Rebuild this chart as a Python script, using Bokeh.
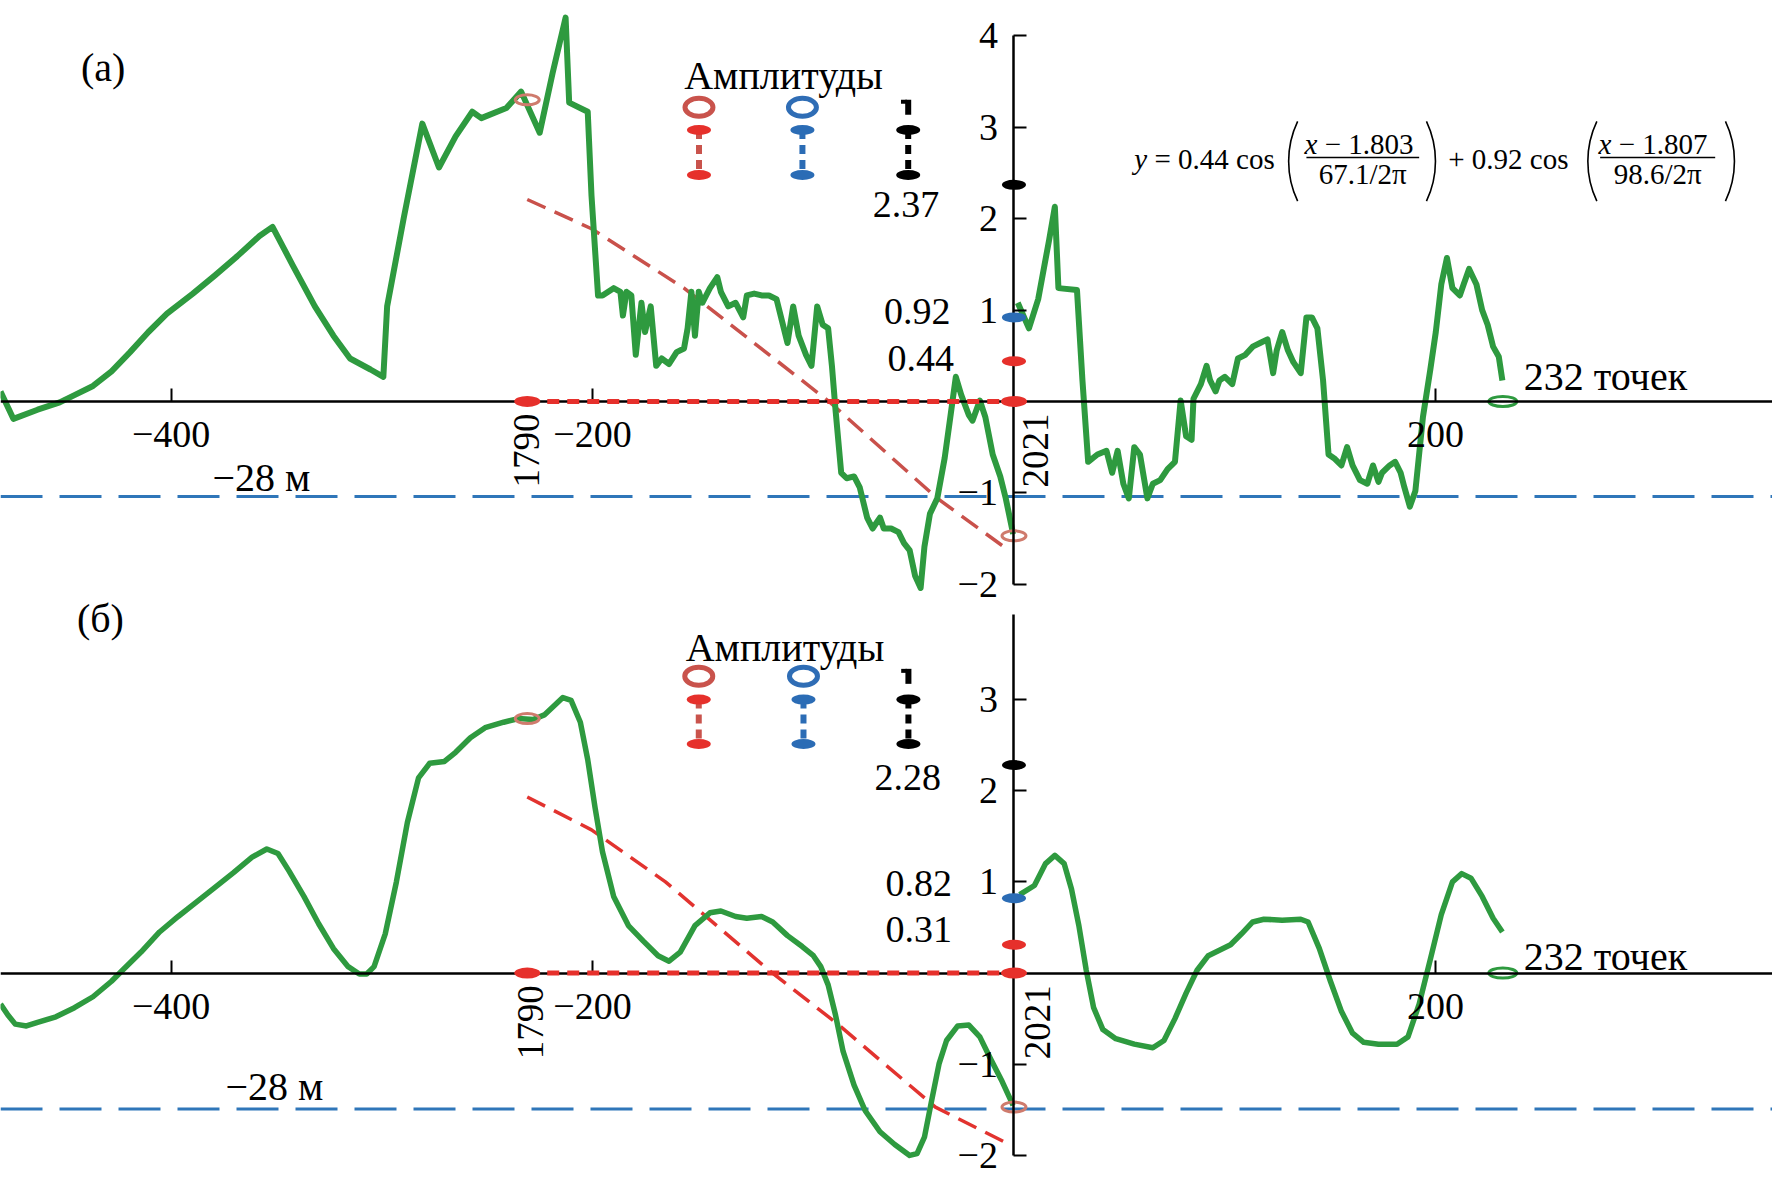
import math
from bokeh.plotting import figure
from bokeh.models import LinearAxis, FixedTicker, Range1d
from bokeh.embed import file_html
from bokeh.resources import INLINE
from bokeh.core.properties import value

FONT = "Liberation Serif"
GREEN = "#2e9a3f"
RED = "#e6302b"
BLUE = "#2b6cb5"
BLUE_LINE = "#2f76b9"
OPEN_RED = "#cf7b6d"
LEG_RED = "#c9534c"

# ---------------- shared axis data ----------------
YEAR_START, YEAR_END = 1790, 2021
N_POINTS = 232
X_TICKS = [-400, -200, 200]
X_TICK_LABELS = ["\u2212400", "\u2212200", "200"]
LEVEL_LABEL = "\u221228 м"

# ---------------- panel (а) ----------------
a_x = [-481.0, -474.9, -463.4, -452.9, -445.9, -437.1, -428.3, -419.5, -410.8, -402.0,
       -389.7, -379.2, -368.6, -358.1, -351.9, -342.3, -331.8, -323.0, -315.1, -305.4,
       -299.3, -297.5, -289.6, -280.8, -272.9, -265.0, -257.1, -252.8, -240.9, -233.9,
       -225.1, -219.0, -212.8, -211.1, -202.3, -200.5, -197.4, -195.3, -190.0, -186.8,
       -185.6, -183.9, -181.6, -179.5, -176.8, -175.1, -172.4, -169.8, -167.2, -163.7,
       -160.1, -156.6, -154.9, -153.1, -151.4, -149.6, -147.9, -144.3, -140.8, -139.1,
       -135.6, -132.1, -128.5, -126.8, -123.3, -119.8, -116.3, -112.7, -110.1, -107.5,
       -104.8, -102.2, -98.7, -96.1, -93.4, -90.8, -88.2, -86.4, -84.7, -82.0,
       -79.4, -75.9, -73.2, -69.7, -67.1, -63.6, -61.8, -58.3, -54.8, -52.2,
       -49.5, -46.9, -44.3, -42.5, -39.9, -36.4, -32.9, -30.2, -27.6, -25.0,
       -21.4, -19.7, -16.2, -13.6, -10.1, -6.5, -3.9, -0.4]
a_y = [0.11, -0.19, -0.09, -0.01, 0.07, 0.17, 0.33, 0.54, 0.76, 0.96,
       1.18, 1.38, 1.59, 1.81, 1.91, 1.49, 1.04, 0.72, 0.47, 0.35,
       0.27, 1.04, 2.01, 3.04, 2.56, 2.90, 3.17, 3.10, 3.21, 3.39,
       2.94, 3.59, 4.20, 3.27, 3.17, 2.25, 1.16, 1.16, 1.24, 1.20,
       0.94, 1.20, 1.16, 0.51, 1.08, 0.76, 1.04, 0.39, 0.47, 0.41,
       0.54, 0.58, 0.80, 1.20, 0.72, 1.20, 1.08, 1.24, 1.36, 1.20,
       1.04, 1.08, 0.92, 1.16, 1.18, 1.16, 1.16, 1.12, 0.88, 0.64,
       1.04, 0.72, 0.51, 0.39, 1.04, 0.84, 0.80, 0.39, -0.09, -0.78,
       -0.84, -0.82, -0.94, -1.27, -1.39, -1.27, -1.39, -1.39, -1.43, -1.55,
       -1.63, -1.91, -2.04, -1.59, -1.23, -1.06, -0.62, -0.17, 0.27, 0.07,
       -0.15, -0.21, 0.01, -0.17, -0.58, -0.82, -1.06, -1.45]
a_det_x = [1.8, 7.1, 11.5, 16.7, 19.4, 21.1, 29.9, 32.5, 35.2, 39.6,
           43.9, 46.6, 49.2, 51.9, 54.5, 57.1, 59.8, 63.3, 65.9, 69.4,
           72.9, 76.4, 79.1, 81.7, 84.3, 85.2, 88.7, 91.4, 93.1, 95.7,
           97.5, 100.1, 103.6, 106.3, 109.8, 113.3, 116.8, 120.3, 123.0, 124.7,
           127.3, 130.0, 132.6, 136.1, 138.8, 141.4, 144.0, 146.7, 149.3, 151.9,
           155.4, 158.1, 160.7, 164.2, 167.7, 170.4, 173.0, 174.7, 178.3, 180.9,
           183.5, 185.3, 187.9, 190.5, 194.1, 197.6, 200.2, 202.8, 205.5, 208.1,
           211.6, 213.4, 216.0, 219.5, 222.2, 224.8, 227.4, 230.1, 231.8]
a_det_y = [1.08, 0.80, 1.12, 1.77, 2.13, 1.24, 1.22, 0.23, -0.66, -0.58,
           -0.54, -0.78, -0.54, -0.90, -1.06, -0.50, -0.58, -1.06, -0.90, -0.86,
           -0.74, -0.66, 0.01, -0.38, -0.42, 0.03, 0.19, 0.39, 0.23, 0.11,
           0.23, 0.27, 0.19, 0.47, 0.51, 0.60, 0.64, 0.68, 0.31, 0.56,
           0.76, 0.56, 0.43, 0.31, 0.92, 0.92, 0.80, 0.23, -0.58, -0.62,
           -0.70, -0.50, -0.70, -0.86, -0.90, -0.70, -0.88, -0.78, -0.70, -0.66,
           -0.78, -0.94, -1.15, -0.98, -0.17, 0.35, 0.76, 1.28, 1.57, 1.24,
           1.16, 1.28, 1.45, 1.28, 1.00, 0.84, 0.60, 0.49, 0.23]
a_trend_x = [-231.0, -200.5, -156.6, -87.3, -36.4, -4.8]
a_trend_y = [2.21, 1.89, 1.24, -0.01, -1.06, -1.59]
a_ends_y = [3.30, -1.47]
a_amps = [0.44, 0.92, 2.37]
a_level = -1.04
a_yticks = [-2, -1, 1, 2, 3, 4]

# equation in panel (а)
EQ_AMPS = [0.44, 0.92]
EQ_PHASES = [1.803, 1.807]
EQ_PERIODS = [67.1, 98.6]

# ---------------- panel (б) ----------------
b_x = [-481.0, -477.5, -474.0, -468.7, -463.4, -454.7, -445.9, -437.1, -428.3, -423.1,
       -414.3, -405.5, -396.7, -387.9, -379.2, -370.4, -361.6, -354.6, -349.3, -344.1,
       -337.0, -330.0, -323.0, -316.0, -310.7, -307.2, -303.7, -298.4, -293.1, -287.9,
       -282.6, -277.3, -270.3, -265.0, -258.0, -251.0, -242.2, -235.2, -228.2, -222.9,
       -214.1, -210.2, -205.8, -202.3, -198.8, -195.3, -190.0, -183.0, -175.9, -168.9,
       -163.7, -158.4, -151.4, -144.3, -139.1, -132.1, -126.8, -119.8, -114.5, -107.5,
       -100.5, -95.2, -91.7, -88.2, -84.7, -81.1, -75.9, -70.6, -63.6, -56.6,
       -49.5, -46.0, -42.5, -39.0, -35.5, -32.0, -26.7, -21.4, -16.2, -10.9,
       -5.6, -0.4]
b_y = [-0.34, -0.46, -0.56, -0.58, -0.54, -0.48, -0.38, -0.26, -0.09, 0.03,
       0.23, 0.45, 0.62, 0.78, 0.94, 1.10, 1.27, 1.36, 1.31, 1.12,
       0.84, 0.54, 0.27, 0.07, -0.01, -0.01, 0.07, 0.43, 1.00, 1.65,
       2.14, 2.30, 2.32, 2.42, 2.58, 2.69, 2.75, 2.79, 2.78, 2.83,
       3.02, 2.99, 2.75, 2.34, 1.81, 1.33, 0.84, 0.52, 0.35, 0.19,
       0.13, 0.23, 0.52, 0.66, 0.68, 0.62, 0.60, 0.62, 0.56, 0.41,
       0.29, 0.19, 0.07, -0.13, -0.46, -0.86, -1.23, -1.51, -1.74, -1.88,
       -2.00, -1.98, -1.80, -1.39, -0.99, -0.74, -0.58, -0.57, -0.70, -0.95,
       -1.19, -1.45]
b_det_x = [2.7, 9.7, 15.0, 19.4, 23.8, 27.3, 30.8, 34.3, 37.8, 42.2,
           48.3, 57.1, 65.9, 71.2, 76.4, 81.7, 86.9, 92.2, 97.5, 102.8,
           108.0, 113.3, 118.6, 127.3, 136.1, 139.6, 144.9, 150.2, 155.4, 160.7,
           166.0, 173.0, 181.8, 187.0, 192.3, 197.6, 202.8, 208.1, 212.5, 216.9,
           222.2, 227.4, 231.8]
b_det_y = [0.86, 0.96, 1.20, 1.29, 1.20, 0.92, 0.52, 0.03, -0.38, -0.62,
           -0.72, -0.78, -0.82, -0.74, -0.50, -0.22, 0.03, 0.19, 0.25, 0.31,
           0.43, 0.56, 0.59, 0.58, 0.59, 0.56, 0.27, -0.09, -0.42, -0.66,
           -0.76, -0.78, -0.78, -0.70, -0.34, 0.15, 0.64, 1.00, 1.09, 1.04,
           0.84, 0.60, 0.45]
b_trend_x = [-231.0, -200.5, -165.4, -116.3, -84.7, -37.3, -2.1]
b_trend_y = [1.93, 1.57, 1.00, 0.03, -0.54, -1.47, -1.88]
b_ends_y = [2.79, -1.47]
b_amps = [0.31, 0.82, 2.28]
b_level = -1.49
b_yticks = [-2, -1, 1, 2, 3]

AMP_COLORS = [RED, BLUE, "black"]
AMP_OPEN_COLORS = [LEG_RED, "#2f6db5"]
AMP_STEM_COLORS = [LEG_RED, BLUE, "black"]

X_RANGE = (-481.0, 360.0)
WIDTH, HEIGHT = 1772, 1200
Y_RANGE_A = (-8.742, 4.387)   # panel (а) occupies the upper part
Y_RANGE_B = (-2.494, 10.663)  # panel (б) occupies the lower part

p = figure(width=WIDTH, height=HEIGHT, x_range=Range1d(*X_RANGE),
           y_range=Range1d(*Y_RANGE_A), output_backend="svg",
           toolbar_location=None, x_axis_type=None, y_axis_type=None,
           min_border=0, outline_line_color=None,
           background_fill_color="white", border_fill_color="white")
p.extra_y_ranges = {"b": Range1d(*Y_RANGE_B)}


def txt(rn, x, y, s, size="40px", align="center", baseline="middle", angle=0.0,
        style="normal"):
    return p.text(x=[x], y=[y], text=[s], text_font=value(FONT), text_font_size=size,
                  text_align=align, text_baseline=baseline, angle=angle,
                  text_font_style=style, text_color="black", y_range_name=rn)


def make_panel(cfg):
    rn = cfg["rn"]
    xs = YEAR_START - YEAR_END  # -231
    xaxis = LinearAxis(fixed_location=0, ticker=FixedTicker(ticks=X_TICKS),
                       major_label_overrides=dict(zip(X_TICKS, X_TICK_LABELS)),
                       y_range_name=rn)
    yt = cfg["yticks"]
    yaxis = LinearAxis(fixed_location=0, ticker=FixedTicker(ticks=yt),
                       bounds=(-2, cfg["ytop"]), y_range_name=rn,
                       major_label_overrides={t: str(t).replace("-", "\u2212") for t in yt})
    for ax in (xaxis, yaxis):
        ax.axis_line_width = 2.5
        ax.axis_line_color = "black"
        ax.major_tick_line_width = 2
        ax.major_tick_line_color = "black"
        ax.major_tick_in = 13
        ax.major_tick_out = 0
        ax.minor_tick_line_color = None
        ax.major_label_text_font = FONT
        ax.major_label_text_font_size = "38px"
        ax.major_label_text_color = "black"
    xaxis.major_label_standoff = 21
    yaxis.major_label_standoff = 16
    p.add_layout(xaxis, "below")
    p.add_layout(yaxis, "left")

    # -28 m level
    p.line(x=list(X_RANGE), y=[cfg["level"]] * 2, line_color=BLUE_LINE, line_width=3,
           line_dash="42 17", y_range_name=rn)
    # trend
    p.line(x=cfg["trend_x"], y=cfg["trend_y"], line_color=cfg["trend_color"],
           line_width=3.5, line_dash="20 10", y_range_name=rn)
    # series and its detrended copy
    p.line(x=cfg["x"], y=cfg["y"], line_color=GREEN, line_width=cfg["lw"],
           line_join="round", y_range_name=rn)
    p.line(x=cfg["det_x"], y=cfg["det_y"], line_color=GREEN, line_width=cfg["lw"],
           line_join="round", y_range_name=rn)

    # red dashed baseline over the data span
    r = p.line(x=[xs, 0], y=[0, 0], line_color=RED, line_width=5, line_dash="12 8",
               y_range_name=rn)
    r.level = "overlay"
    r = p.ellipse(x=[xs, 0], y=[0, 0], width=26, height=11, width_units="screen",
                  height_units="screen", fill_color=RED, line_color=None, y_range_name=rn)
    r.level = "overlay"
    # amplitude markers on the y axis
    r = p.ellipse(x=[0, 0, 0], y=cfg["amps"], width=24, height=10, width_units="screen",
                  height_units="screen", fill_color=AMP_COLORS, line_color=None,
                  y_range_name=rn)
    r.level = "overlay"
    # open markers at data ends
    p.ellipse(x=[xs, 0], y=cfg["ends_y"], width=24, height=10, width_units="screen",
              height_units="screen", fill_color=None, line_color=OPEN_RED, line_width=3,
              y_range_name=rn)
    p.ellipse(x=[N_POINTS], y=[0], width=28, height=10, width_units="screen",
              height_units="screen", fill_color=None, line_color=GREEN, line_width=3,
              y_range_name=rn)

    # amplitude legend
    lx = cfg["leg_x"]
    p.ellipse(x=lx[:2], y=[cfg["leg_open"]] * 2, width=28, height=18, width_units="screen",
              height_units="screen", fill_color=None, line_color=AMP_OPEN_COLORS,
              line_width=5, y_range_name=rn)
    p.rect(x=[lx[2]], y=[cfg["leg_open"]], width=6, height=15, width_units="screen",
           height_units="screen", fill_color="black", line_color=None, y_range_name=rn)
    p.rect(x=[lx[2] - 2.0], y=[cfg["leg_open"] + 0.06], width=6, height=4,
           width_units="screen", height_units="screen", fill_color="black",
           line_color=None, y_range_name=rn)
    p.segment(x0=lx, y0=[cfg["leg_top"]] * 3, x1=lx, y1=[cfg["leg_bot"]] * 3,
              line_color=AMP_STEM_COLORS, line_width=6, line_dash="9 6", y_range_name=rn)
    p.ellipse(x=lx, y=[cfg["leg_top"]] * 3, width=24, height=10, width_units="screen",
              height_units="screen", fill_color=AMP_COLORS, line_color=None, y_range_name=rn)
    p.ellipse(x=lx, y=[cfg["leg_bot"]] * 3, width=24, height=10, width_units="screen",
              height_units="screen", fill_color=AMP_COLORS, line_color=None, y_range_name=rn)
    txt(rn, cfg["leg_title"][0], cfg["leg_title"][1], "Амплитуды", align="left")

    # amplitude value labels
    for val, (lxp, lyp) in zip(cfg["amps"], cfg["amp_lab"]):
        txt(rn, lxp, lyp, f"{val:.2f}", size="38px", align="right")

    # other labels
    txt(rn, cfg["panel_lab"][0], cfg["panel_lab"][1], cfg["panel_text"])
    txt(rn, cfg["level_lab"][0], cfg["level_lab"][1], LEVEL_LABEL)
    txt(rn, 242, cfg["npts_y"], f"{N_POINTS} точек", align="left")
    txt(rn, cfg["year_x"][0], cfg["year_y"], str(YEAR_START), size="37px", align="right",
        angle=math.pi / 2)
    txt(rn, cfg["year_x"][1], cfg["year_y"], str(YEAR_END), size="37px", align="right",
        angle=math.pi / 2)


def add_equation():
    s = "29px"
    rn = "default"
    yc = 2.653
    txt(rn, 57.1, yc, "y", size=s, align="left", style="italic")
    txt(rn, 66.7, yc, f"= {EQ_AMPS[0]} cos", size=s, align="left")
    txt(rn, 206.1, yc, f"+ {EQ_AMPS[1]} cos", size=s, align="left")
    for xi, xr, xc, ph, per in [(137.9, 147.5, 165.5, EQ_PHASES[0], EQ_PERIODS[0]),
                                (277.4, 287.0, 305.5, EQ_PHASES[1], EQ_PERIODS[1])]:
        txt(rn, xi, 2.815, "x", size=s, align="left", style="italic")
        txt(rn, xr, 2.815, f"\u2212 {ph}", size=s, align="left")
        txt(rn, xc, 2.49, f"{per}/2\u03c0", size=s, align="center")
    p.segment(x0=[138.8, 278.2], y0=[2.670, 2.670], x1=[192.3, 332.8], y1=[2.670, 2.670],
              line_color="black", line_width=1.6)
    half = math.radians(25.4)
    p.arc(x=[174.5, 316.5], y=[2.628, 2.628], radius=93, radius_units="screen",
          start_angle=math.pi - half, end_angle=math.pi + half, line_color="black",
          line_width=1.6)
    p.arc(x=[155.9, 297.8], y=[2.628, 2.628], radius=93, radius_units="screen",
          start_angle=-half, end_angle=half, line_color="black", line_width=1.6)


cfg_a = dict(rn="default", x=a_x, y=a_y, det_x=a_det_x, det_y=a_det_y,
             trend_x=a_trend_x, trend_y=a_trend_y, trend_color="#c9514b", ends_y=a_ends_y,
             amps=a_amps, level=a_level, yticks=a_yticks, ytop=4, lw=6,
             leg_x=[-149.5, -100.4, -50.2], leg_open=3.218, leg_top=2.970, leg_bot=2.477,
             leg_title=(-156.5, 3.569),
             amp_lab=[(-28.5, 0.473), (-30.1, 0.979), (-35.5, 2.155)],
             panel_lab=(-432.3, 3.65), panel_text="(а)", level_lab=(-357.2, -0.83),
             npts_y=0.274, year_x=(-231.2, 10.2), year_y=-0.131)
cfg_b = dict(rn="b", x=b_x, y=b_y, det_x=b_det_x, det_y=b_det_y,
             trend_x=b_trend_x, trend_y=b_trend_y, trend_color="#e2332f", ends_y=b_ends_y,
             amps=b_amps, level=b_level, yticks=b_yticks, ytop=3.93, lw=5.5,
             leg_x=[-149.6, -99.9, -50.1], leg_open=3.253, leg_top=2.998, leg_bot=2.511,
             leg_title=(-155.8, 3.567),
             amp_lab=[(-29.4, 0.477), (-29.4, 0.981), (-34.6, 2.148)],
             panel_lab=(-433.6, 3.89), panel_text="(б)", level_lab=(-351.0, -1.24),
             npts_y=0.181, year_x=(-229.5, 11.0), year_y=-0.134)

make_panel(cfg_a)
add_equation()
make_panel(cfg_b)

open("out.html", "w").write(file_html(p, INLINE))
